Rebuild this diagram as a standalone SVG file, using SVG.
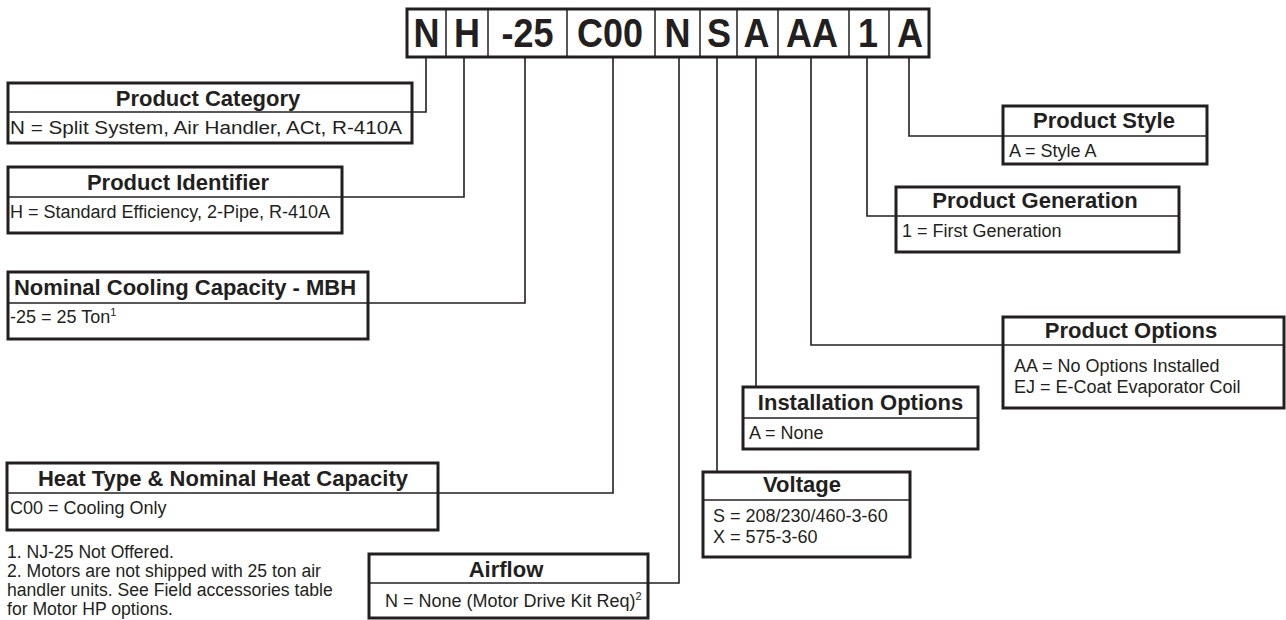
<svg xmlns="http://www.w3.org/2000/svg" width="1286" height="620" viewBox="0 0 1286 620">
<style>
  text { font-family: "Liberation Sans", Arial, sans-serif; fill: #231f20; }
  .code { font-size: 40px; font-weight: bold; text-anchor: middle; }
  .title { font-size: 22px; font-weight: bold; text-anchor: middle; }
  .body { font-size: 18px; }
  .note { font-size: 17.6px; }
  .sup { font-size: 11px; }
  .box { fill: #fff; stroke: #231f20; stroke-width: 3; }
  .div { stroke: #231f20; stroke-width: 1.5; fill: none; }
  .conn { stroke: #231f20; stroke-width: 1.6; fill: none; }
</style>
<rect width="1286" height="620" fill="#fff"/>

<g id="connectors">
  <path class="conn" d="M426,57 V112 H412"/>
  <path class="conn" d="M464,57 V197 H342"/>
  <path class="conn" d="M525,57 V303 H368"/>
  <path class="conn" d="M613,57 V493 H438"/>
  <path class="conn" d="M679,57 V583 H648"/>
  <path class="conn" d="M717,57 V472"/>
  <path class="conn" d="M756,57 V387"/>
  <path class="conn" d="M811,57 V345 H1003"/>
  <path class="conn" d="M867,57 V216 H896"/>
  <path class="conn" d="M909,57 V136 H1003"/>
</g>

<g id="model-code">
  <rect class="box" x="407" y="9" width="522" height="48"/>
  <path class="div" d="M446,9 V57 M488,9 V57 M567,9 V57 M655,9 V57 M700,9 V57 M737,9 V57 M778,9 V57 M849,9 V57 M889,9 V57"/>
  <text class="code" x="426.5" y="47" textLength="26" lengthAdjust="spacingAndGlyphs">N</text>
  <text class="code" x="467" y="47" textLength="26" lengthAdjust="spacingAndGlyphs">H</text>
  <text class="code" x="527.5" y="47" textLength="52" lengthAdjust="spacingAndGlyphs">-25</text>
  <text class="code" x="610" y="47" textLength="66" lengthAdjust="spacingAndGlyphs">C00</text>
  <text class="code" x="677.5" y="47" textLength="26" lengthAdjust="spacingAndGlyphs">N</text>
  <text class="code" x="719" y="47" textLength="24" lengthAdjust="spacingAndGlyphs">S</text>
  <text class="code" x="756.5" y="47" textLength="26" lengthAdjust="spacingAndGlyphs">A</text>
  <text class="code" x="812" y="47" textLength="52" lengthAdjust="spacingAndGlyphs">AA</text>
  <text class="code" x="868" y="47" textLength="20" lengthAdjust="spacingAndGlyphs">1</text>
  <text class="code" x="910" y="47" textLength="26" lengthAdjust="spacingAndGlyphs">A</text>
</g>

<g id="product-category">
  <rect class="box" x="8" y="83" width="404" height="60"/>
  <line class="div" x1="8" y1="112" x2="412" y2="112"/>
  <text class="title" x="208" y="106">Product Category</text>
  <text class="body" x="10" y="134" textLength="392" lengthAdjust="spacingAndGlyphs">N = Split System, Air Handler, ACt, R-410A</text>
</g>

<g id="product-identifier">
  <rect class="box" x="8" y="167" width="334" height="66"/>
  <line class="div" x1="8" y1="197" x2="342" y2="197"/>
  <text class="title" x="178" y="190">Product Identifier</text>
  <text class="body" x="10" y="218">H = Standard Efficiency, 2-Pipe, R-410A</text>
</g>

<g id="nominal-cooling">
  <rect class="box" x="8" y="272" width="360" height="67"/>
  <line class="div" x1="8" y1="303" x2="368" y2="303"/>
  <text class="title" x="185" y="295">Nominal Cooling Capacity - MBH</text>
  <text class="body" x="10" y="323">-25 = 25 Ton<tspan class="sup" dy="-7">1</tspan></text>
</g>

<g id="heat-type">
  <rect class="box" x="7" y="463" width="431" height="67"/>
  <line class="div" x1="7" y1="493" x2="438" y2="493"/>
  <text class="title" x="223" y="486">Heat Type &amp; Nominal Heat Capacity</text>
  <text class="body" x="10" y="514">C00 = Cooling Only</text>
</g>

<g id="footnotes">
  <text class="note" x="7" y="558">1. NJ-25 Not Offered.</text>
  <text class="note" x="7" y="577">2. Motors are not shipped with 25 ton air</text>
  <text class="note" x="7" y="596">handler units. See Field accessories table</text>
  <text class="note" x="7" y="615">for Motor HP options.</text>
</g>

<g id="airflow">
  <rect class="box" x="369" y="554" width="279" height="64"/>
  <line class="div" x1="369" y1="583" x2="648" y2="583"/>
  <text class="title" x="506" y="577">Airflow</text>
  <text class="body" x="385" y="607">N = None (Motor Drive Kit Req)<tspan class="sup" dy="-7">2</tspan></text>
</g>

<g id="voltage">
  <rect class="box" x="703" y="472" width="207" height="85"/>
  <line class="div" x1="703" y1="500" x2="910" y2="500"/>
  <text class="title" x="802" y="492">Voltage</text>
  <text class="body" x="713" y="522">S = 208/230/460-3-60</text>
  <text class="body" x="713" y="543">X = 575-3-60</text>
</g>

<g id="installation-options">
  <rect class="box" x="743" y="387" width="235" height="62"/>
  <line class="div" x1="743" y1="418" x2="978" y2="418"/>
  <text class="title" x="860.5" y="410">Installation Options</text>
  <text class="body" x="749" y="439">A = None</text>
</g>

<g id="product-options">
  <rect class="box" x="1003" y="317" width="281" height="91"/>
  <line class="div" x1="1003" y1="345" x2="1284" y2="345"/>
  <text class="title" x="1131" y="338">Product Options</text>
  <text class="body" x="1014" y="372">AA = No Options Installed</text>
  <text class="body" x="1014" y="393">EJ = E-Coat Evaporator Coil</text>
</g>

<g id="product-generation">
  <rect class="box" x="896" y="187" width="283" height="65"/>
  <line class="div" x1="896" y1="216" x2="1179" y2="216"/>
  <text class="title" x="1035" y="208">Product Generation</text>
  <text class="body" x="902" y="237">1 = First Generation</text>
</g>

<g id="product-style">
  <rect class="box" x="1003" y="106" width="204" height="58"/>
  <line class="div" x1="1003" y1="136" x2="1207" y2="136"/>
  <text class="title" x="1104" y="128">Product Style</text>
  <text class="body" x="1009" y="157">A = Style A</text>
</g>
</svg>
